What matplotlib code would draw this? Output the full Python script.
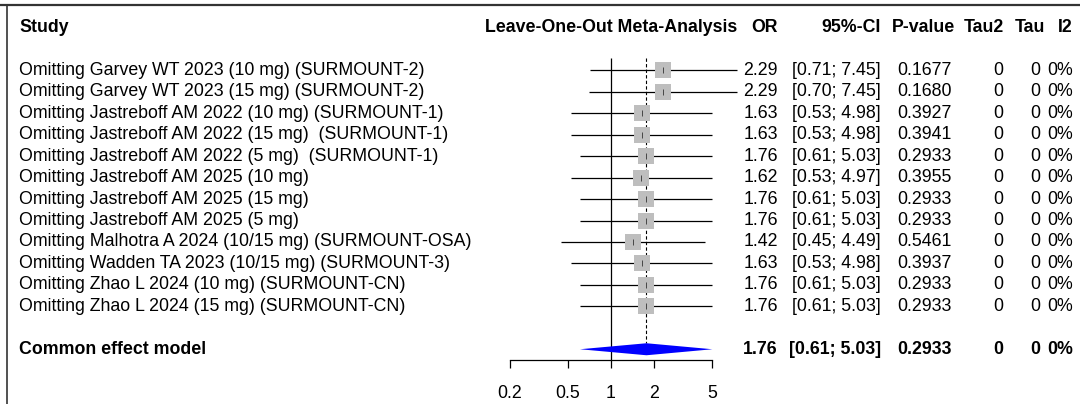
import matplotlib
matplotlib.use("Agg")
import matplotlib.pyplot as plt
import numpy as np
from matplotlib.lines import Line2D
from matplotlib.transforms import blended_transform_factory

plt.rcParams["font.family"] = ["Liberation Sans", "DejaVu Sans"]

# data
studies = [
    "Omitting Garvey WT 2023 (10 mg) (SURMOUNT-2)",
    "Omitting Garvey WT 2023 (15 mg) (SURMOUNT-2)",
    "Omitting Jastreboff AM 2022 (10 mg) (SURMOUNT-1)",
    "Omitting Jastreboff AM 2022 (15 mg)  (SURMOUNT-1)",
    "Omitting Jastreboff AM 2022 (5 mg)  (SURMOUNT-1)",
    "Omitting Jastreboff AM 2025 (10 mg)",
    "Omitting Jastreboff AM 2025 (15 mg)",
    "Omitting Jastreboff AM 2025 (5 mg)",
    "Omitting Malhotra A 2024 (10/15 mg) (SURMOUNT-OSA)",
    "Omitting Wadden TA 2023 (10/15 mg) (SURMOUNT-3)",
    "Omitting Zhao L 2024 (10 mg) (SURMOUNT-CN)",
    "Omitting Zhao L 2024 (15 mg) (SURMOUNT-CN)",
]
or_est = [2.29, 2.29, 1.63, 1.63, 1.76, 1.62, 1.76, 1.76, 1.42, 1.63, 1.76, 1.76]
ci_lo = [0.71, 0.70, 0.53, 0.53, 0.61, 0.53, 0.61, 0.61, 0.45, 0.53, 0.61, 0.61]
ci_hi = [7.45, 7.45, 4.98, 4.98, 5.03, 4.97, 5.03, 5.03, 4.49, 4.98, 5.03, 5.03]
p_vals = ["0.1677", "0.1680", "0.3927", "0.3941", "0.2933", "0.3955",
          "0.2933", "0.2933", "0.5461", "0.3937", "0.2933", "0.2933"]
tau2_vals = ["0"] * 12
tau_vals = ["0"] * 12
i2_vals = ["0%"] * 12

pooled_label = "Common effect model"
pooled_est = 1.76
pooled_lo = 0.61
pooled_hi = 5.03
pooled_p = "0.2933"
pooled_tau2 = "0"
pooled_tau = "0"
pooled_i2 = "0%"

headers = ["OR", "95%-CI", "P-value", "Tau2", "Tau", "I2"]
xticks = [0.2, 0.5, 1, 2, 5]
tick_labels = ["0.2", "0.5", "1", "2", "5"]

W, H = 1080, 404
ROW0_PX = 27.5      # header row centre
ROW_PX = 21.45      # row spacing
X1_PX = 611.0       # pixel of OR = 1
DEC_PX = 144.5      # pixels per decade
FS = 12.8

fig = plt.figure(figsize=(W / 100, H / 100), dpi=100)
ax = fig.add_axes([0, 0, 1, 1])
ax.set_xscale("log")
ax.set_xlim(10 ** ((0 - X1_PX) / DEC_PX), 10 ** ((W - X1_PX) / DEC_PX))
ax.set_ylim((H - ROW0_PX) / ROW_PX, -ROW0_PX / ROW_PX)
ax.patch.set_visible(False)

tr = blended_transform_factory(fig.transFigure, ax.transData)


def fx(px):
    return px / W


n = len(studies)
rows = np.arange(n) + 2
pooled_row = n + 3
axis_row = pooled_row + 0.48

# reference lines
ax.vlines(1, 1.4, axis_row, color="black", lw=0.9)
ax.vlines(pooled_est, 1.4, pooled_row - 0.28, color="black", lw=0.8, ls=(0, (3, 2)))

# study CIs and squares
ax.hlines(rows, ci_lo, ci_hi, color="black", lw=0.9)
ax.scatter(or_est, rows, marker="s", s=125, color="#BEBEBE", zorder=3, linewidths=0)
ax.scatter(or_est, rows, marker="|", s=14, color="#333333", lw=0.6, zorder=4)

# pooled diamond
dx = [pooled_lo, pooled_est, pooled_hi, pooled_est]
dy = [pooled_row, pooled_row - 0.28, pooled_row, pooled_row + 0.28]
ax.fill(dx, dy, color="#0000FF", lw=0, zorder=3)

# x axis
for s in ["top", "left", "right"]:
    ax.spines[s].set_visible(False)
ax.spines["bottom"].set_position(("data", axis_row))
ax.spines["bottom"].set_bounds(xticks[0], xticks[-1])
ax.spines["bottom"].set_linewidth(0.9)
ax.set_xticks(xticks)
ax.set_xticklabels(tick_labels, fontsize=FS)
ax.minorticks_off()
ax.tick_params(axis="x", direction="out", length=6, width=0.9, pad=12)
ax.set_yticks([])

# text columns
col_right = [778, 881, 952, 1003, 1040, 1073]
hdr_right = [778, 881, 955, 1004, 1045, 1073]

ax.text(fx(19), 0, "Study", transform=tr, ha="left", va="center", fontsize=FS, fontweight="bold")
ax.text(1, 0, "Leave-One-Out Meta-Analysis", ha="center", va="center", fontsize=FS, fontweight="bold")
for h, px in zip(headers, hdr_right):
    ax.text(fx(px), 0, h, transform=tr, ha="right", va="center", fontsize=FS, fontweight="bold")

for i, r in enumerate(rows):
    ax.text(fx(19), r, studies[i], transform=tr, ha="left", va="center", fontsize=FS)
    cells = [f"{or_est[i]:.2f}", f"[{ci_lo[i]:.2f}; {ci_hi[i]:.2f}]", p_vals[i],
             tau2_vals[i], tau_vals[i], i2_vals[i]]
    for c, px in zip(cells, col_right):
        ax.text(fx(px), r, c, transform=tr, ha="right", va="center", fontsize=FS)

ax.text(fx(19), pooled_row, pooled_label, transform=tr, ha="left", va="center",
        fontsize=FS, fontweight="bold")
cells = [f"{pooled_est:.2f}", f"[{pooled_lo:.2f}; {pooled_hi:.2f}]", pooled_p,
         pooled_tau2, pooled_tau, pooled_i2]
for c, px in zip(cells, col_right):
    ax.text(fx(px), pooled_row, c, transform=tr, ha="right", va="center",
            fontsize=FS, fontweight="bold")

# frame of the original screenshot
fig.add_artist(Line2D([0, 1], [1 - 5 / H, 1 - 5 / H], transform=fig.transFigure,
                      color="#333333", lw=1.6))
fig.add_artist(Line2D([7 / W, 7 / W], [0, 1 - 5 / H], transform=fig.transFigure,
                      color="#333333", lw=1.2))

fig.savefig("out.png", dpi=100)
